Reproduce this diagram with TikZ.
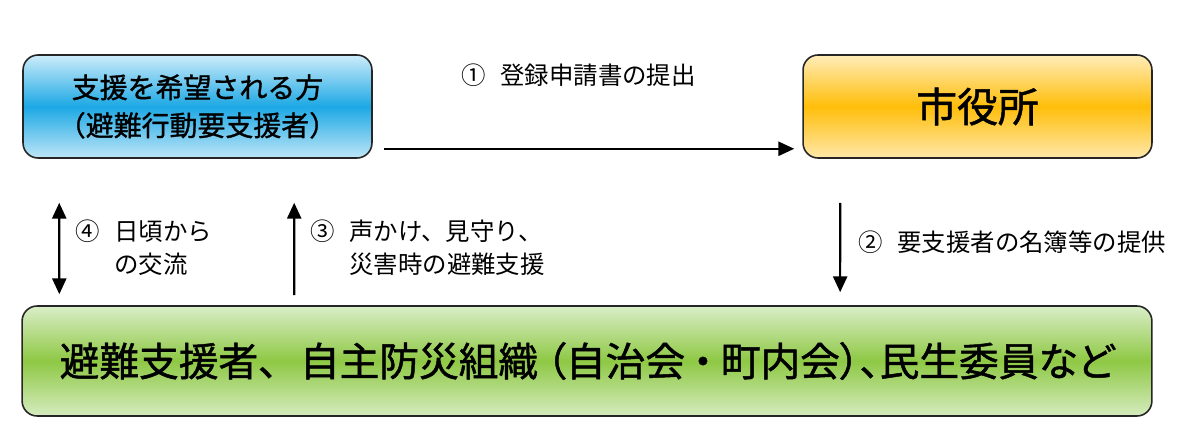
\documentclass[tikz,border=0pt]{standalone}
\usepackage{fontspec}
\setmainfont{Noto Sans CJK JP}
\newfontfamily\boxfont[RawFeature={embolden=1.2}]{Noto Sans CJK JP}
\newfontfamily\paltfont[RawFeature={+palt;embolden=1.2}]{Noto Sans CJK JP}
\usetikzlibrary{arrows.meta}

\definecolor{blueTop}{RGB}{205,236,250}
\definecolor{blueMid}{RGB}{28,168,228}
\definecolor{blueBot}{RGB}{190,230,248}
\definecolor{orangeTop}{RGB}{255,236,185}
\definecolor{orangeMid}{RGB}{255,190,10}
\definecolor{orangeBot}{RGB}{255,232,170}
\definecolor{greenTop}{RGB}{218,238,200}
\definecolor{greenMid}{RGB}{142,200,68}
\definecolor{greenBot}{RGB}{214,236,192}

\begin{document}
\begin{tikzpicture}[x=0.02cm, y=-0.02cm, >={Triangle[length=9pt, width=8pt]},
		link/.style={->, line width=1.2pt},
		box/.style={draw=black!85, line width=0.9pt, rounded corners=0.3cm, minimum width=6.98cm, minimum height=2.06cm, align=center},
		lbl/.style={anchor=west, align=left, inner sep=0pt, font=\fontsize{13.9pt}{18.7pt}\selectfont}]
		\useasboundingbox (0, 0) rectangle (1200, 432);
		
		\node[box, top color=blueTop, bottom color=blueBot, middle color=blueMid, font=\boxfont\fontsize{15.9pt}{21.6pt}\selectfont] (person) at (197.5, 106.5) {支援を希望される方\\（避難行動要支援者）};
		\node[box, top color=orangeTop, bottom color=orangeBot, middle color=orangeMid, font=\boxfont\fontsize{23.2pt}{28pt}\selectfont] (city) at (977.5, 106.5) {市役所};
		\node[box, minimum width=22.6cm, minimum height=2.2cm, top color=greenTop, bottom color=greenBot, middle color=greenMid, font=\paltfont\fontsize{22.6pt}{28pt}\selectfont] (helpers) at (587, 361) {避難支援者、\hspace{0.55em}自主防災組織\hspace{0.2em}（自治会\hspace{0.2em}・\hspace{0.2em}町内会）、民生委員など};
		
		\node[lbl] (step1) at (461, 75) {①\hspace{0.6em}登録申請書の提出};
		\node[lbl] (step2) at (858, 242) {②\hspace{0.6em}要支援者の名簿等の提供};
		\node[lbl] (step3) at (310, 247.5) {③\hspace{0.6em}声かけ、見守り、\\\phantom{③}\hspace{0.6em}災害時の避難支援};
		\node[lbl] (step4) at (75, 247.5) {④\hspace{0.6em}日頃から\\\phantom{④}\hspace{0.6em}の交流};
		
		\draw[link] ([xshift=0.22cm, yshift=0.2cm]person.south east) -- ([xshift=-0.16cm, yshift=0.2cm]city.south west);
		\draw[link] ([xshift=0.76cm, yshift=-0.88cm]city.south west) -- ([xshift=16.38cm, yshift=0.26cm]helpers.north west);
		\draw[link] ([xshift=5.46cm, yshift=0.2cm]helpers.north west) -- ([xshift=5.44cm, yshift=-0.88cm]person.south west);
		\draw[link, <->] ([xshift=0.74cm, yshift=-0.88cm]person.south west) -- ([xshift=0.76cm, yshift=0.22cm]helpers.north west);
	\end{tikzpicture}
\end{document}
